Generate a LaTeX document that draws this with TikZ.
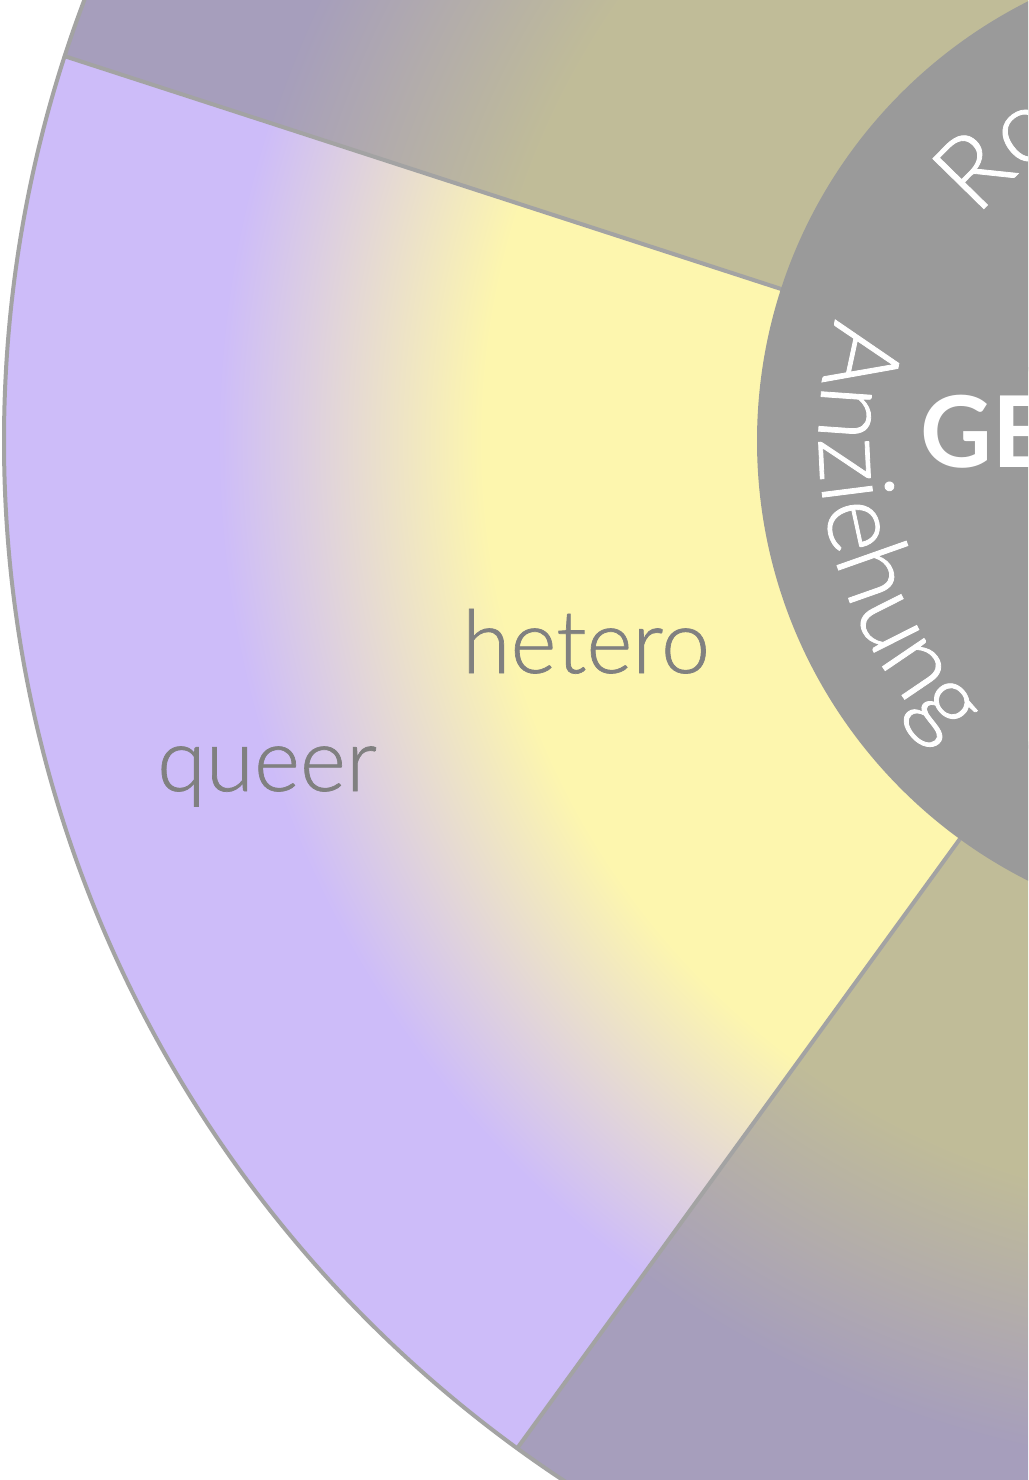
\documentclass[tikz,border=0pt]{standalone}
\usepackage{fontspec}
\usetikzlibrary{decorations.text,calc}
\IfFontExistsTF{Lato Light}{\newfontfamily\lightfont{Lato Light}[RawFeature={embolden=0.8}]}{\newfontfamily\lightfont{Lato}}
\newfontfamily\latofont{Lato}
\definecolor{yel}{HTML}{FDF6AE}
\definecolor{lav}{HTML}{CDBCF9}
\definecolor{olv}{HTML}{C0BC98}
\definecolor{plg}{HTML}{A69EBC}
\definecolor{hubgray}{HTML}{9A9A9A}
\definecolor{rimgray}{HTML}{A3A3A3}
\definecolor{labgray}{HTML}{808080}
\pgfdeclareradialshading{brightring}{\pgfpoint{0pt}{0pt}}{color(0pt)=(yel); color(766pt)=(yel); color(1032pt)=(lav); color(1300pt)=(lav)}
\pgfdeclareradialshading{dimring}{\pgfpoint{0pt}{0pt}}{color(0pt)=(olv); color(766pt)=(olv); color(1032pt)=(plg); color(1300pt)=(plg)}
\begin{document}
\begin{tikzpicture}[x=1pt,y=1pt,
  divider/.style={draw=rimgray, line width=4pt},
  seglabel/.style={text=labgray, font=\lightfont\fontsize{88}{88}\selectfont, inner sep=0pt, anchor=base}]
\coordinate (C) at (1249,-441);
\useasboundingbox (0,0) rectangle (1028,-1480);
\fill[white] (0,0) rectangle (1028,-1480);
\clip (0,0) rectangle (1028,-1480);
% left segment (bright)
\begin{scope}
  \clip (C) -- ($(C)+(162:1245)$) arc[start angle=162,end angle=234,radius=1245] -- cycle;
  \node[inner sep=0pt,outer sep=0pt] (shadeleft) at (C) {\pgfuseshading{brightring}};
\end{scope}
% upper segment (dimmed)
\begin{scope}
  \clip (C) -- ($(C)+(90:1245)$) arc[start angle=90,end angle=162,radius=1245] -- cycle;
  \node[inner sep=0pt,outer sep=0pt] (shadeupper) at (C) {\pgfuseshading{dimring}};
\end{scope}
% lower segment (dimmed)
\begin{scope}
  \clip (C) -- ($(C)+(234:1245)$) arc[start angle=234,end angle=306,radius=1245] -- cycle;
  \node[inner sep=0pt,outer sep=0pt] (shadelower) at (C) {\pgfuseshading{dimring}};
\end{scope}
% borders
\draw[divider] (C) circle[radius=1245];
\foreach \a in {90,162,234,306} {\draw[divider] (C) -- ($(C)+(\a:1245)$);}
% hub
\fill[hubgray] (C) circle[radius=492];
% curved labels
\path[decorate, decoration={text along path, text={|\color{white}\lightfont\fontsize{101}{101}\selectfont|Anziehung}}]
  ($(C)+(163.5:430)$) arc[start angle=163.5, end angle=245, radius=430];
\path[decorate, decoration={text along path, text={|\color{white}\lightfont\fontsize{101}{101}\selectfont|Rolle}}]
  ($(C)+(140.5:352)$) arc[start angle=140.5, end angle=60, radius=352];
% centre title
\node[anchor=base west, inner sep=0pt, text=white, font=\latofont\bfseries\fontsize{99}{99}\selectfont] (title) at (920,-467) {GESCHLECHT};
% segment labels
\node[seglabel] (hetero) at (586,-673) {hetero};
\node[seglabel] (queer) at (267,-791) {queer};
\end{tikzpicture}
\end{document}
